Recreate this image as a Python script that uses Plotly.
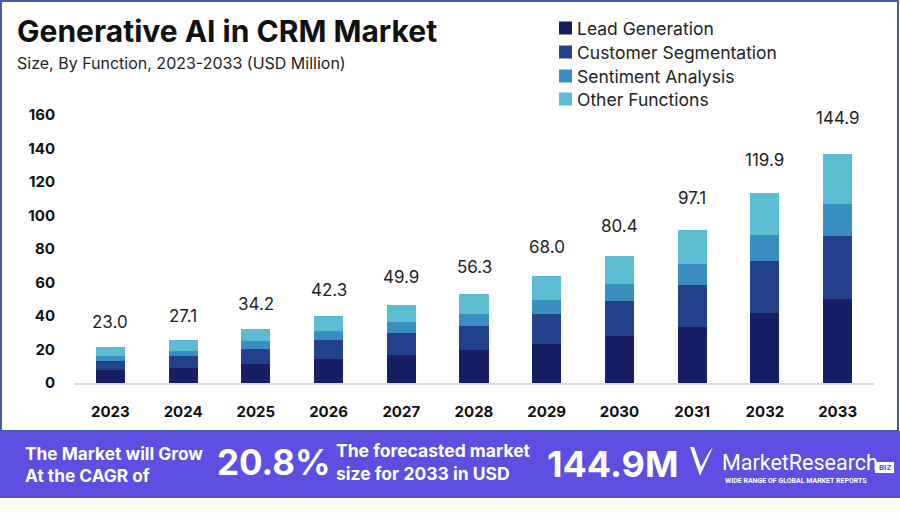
import plotly.graph_objects as go

years = ["2023", "2024", "2025", "2026", "2027", "2028", "2029", "2030", "2031", "2032", "2033"]
lead_generation = [7.5, 9.0, 11.5, 14.5, 16.9, 19.5, 23.5, 28.1, 33.4, 41.6, 50.3]
customer_segmentation = [5.8, 6.9, 8.8, 10.9, 13.1, 14.3, 17.5, 20.6, 25.3, 31.0, 37.6]
sentiment_analysis = [3.0, 3.4, 4.5, 5.4, 6.4, 7.6, 8.7, 10.6, 12.5, 15.5, 19.0]
other_functions = [5.2, 6.1, 7.4, 9.0, 10.3, 11.9, 14.4, 16.7, 20.3, 25.3, 30.1]
totals = [23.0, 27.1, 34.2, 42.3, 49.9, 56.3, 68.0, 80.4, 97.1, 119.9, 144.9]
y_ticks = [0, 20, 40, 60, 80, 100, 120, 140, 160]

series = [
    ("Lead Generation", lead_generation, "#161f63"),
    ("Customer Segmentation", customer_segmentation, "#23428c"),
    ("Sentiment Analysis", sentiment_analysis, "#3a8fc0"),
    ("Other Functions", other_functions, "#5bbcd2"),
]

W, H = 900, 520
ML, MR, MT, MB = 74, 26, 115, 137
PW, PH = W - ML - MR, H - MT - MB


def px(x):
    return (x - ML) / PW


def py(y):
    return (H - MB - y) / PH


fig = go.Figure()
for name, vals, col in series:
    fig.add_trace(go.Bar(x=years, y=vals, name=name, marker=dict(color=col, line=dict(width=0)), width=0.4))

for i, t in enumerate(totals):
    fig.add_annotation(x=i, y=t, text=f"{t:.1f}", showarrow=False, yanchor="middle", yshift=22,
                       font=dict(family="Inter, sans-serif", size=17, color="#222222"))

font_main = "Inter, sans-serif"

# title & subtitle
fig.add_annotation(xref="paper", yref="paper", x=px(15), y=py(31), xanchor="left", yanchor="middle",
                   text="<b>Generative AI in CRM Market</b>", showarrow=False,
                   font=dict(family=font_main, size=30, color="#111111"))
fig.add_annotation(xref="paper", yref="paper", x=px(15), y=py(63), xanchor="left", yanchor="middle",
                   text="Size, By Function, 2023-2033 (USD Million)", showarrow=False,
                   font=dict(family=font_main, size=16, color="#222222"))

# legend (manual)
leg_rows = [28, 52, 76, 99]
for (name, vals, col), yy in zip(series, leg_rows):
    fig.add_shape(type="rect", xref="paper", yref="paper", x0=px(559), x1=px(572), y0=py(yy - 6.5), y1=py(yy + 6.5),
                  fillcolor=col, line=dict(width=0))
    fig.add_annotation(xref="paper", yref="paper", x=px(575), y=py(yy), xanchor="left", yanchor="middle",
                       text=name, showarrow=False, font=dict(family=font_main, size=17.5, color="#222222"))

# frame
fig.add_shape(type="rect", xref="paper", yref="paper", x0=px(1), x1=px(898), y0=py(1), y1=py(431),
              line=dict(color="#3d5fae", width=2), fillcolor="rgba(0,0,0,0)", layer="below")
# banner
fig.add_shape(type="rect", xref="paper", yref="paper", x0=px(0), x1=px(900), y0=py(431), y1=py(498),
              line=dict(width=0), fillcolor="#5e4ee2")
fig.add_shape(type="rect", xref="paper", yref="paper", x0=px(0), x1=px(900), y0=py(498), y1=py(520),
              line=dict(width=0), fillcolor="#fcfcfa")
fig.add_annotation(xref="paper", yref="paper", x=px(23), y=py(464), xanchor="left", yanchor="middle",
                   text="<b>The Market will Grow<br>At the CAGR of</b>", align="left", showarrow=False,
                   font=dict(family=font_main, size=17.3, color="white"))
fig.add_annotation(xref="paper", yref="paper", x=px(215), y=py(462), xanchor="left", yanchor="middle",
                   text="<b>20.8%</b>", showarrow=False,
                   font=dict(family=font_main, size=35, color="white"))
fig.add_annotation(xref="paper", yref="paper", x=px(334), y=py(462), xanchor="left", yanchor="middle",
                   text="<b>The forecasted market<br>size for 2033 in USD</b>", align="left", showarrow=False,
                   font=dict(family=font_main, size=17.5, color="white"))
fig.add_annotation(xref="paper", yref="paper", x=px(545), y=py(464), xanchor="left", yanchor="middle",
                   text="<b>144.9M</b>", showarrow=False,
                   font=dict(family=font_main, size=36, color="white"))
# logo
chk = [(690, 447), (700, 476), (713, 447), (709, 452), (701, 467), (694, 447)]


def path(pts):
    return "M " + " L ".join(f"{px(a)},{py(b)}" for a, b in pts) + " Z"


fig.add_shape(type="path", xref="paper", yref="paper", path=path(chk), fillcolor="white", line=dict(width=0))
fig.add_annotation(xref="paper", yref="paper", x=px(720), y=py(462), xanchor="left", yanchor="middle",
                   text="MarketResearch", showarrow=False,
                   font=dict(family="Roboto, sans-serif", size=21.5, color="white"))
fig.add_shape(type="rect", xref="paper", yref="paper", x0=px(875), x1=px(894), y0=py(473), y1=py(462),
              fillcolor="white", line=dict(width=0))
fig.add_annotation(xref="paper", yref="paper", x=px(884.5), y=py(467.5), xanchor="center", yanchor="middle",
                   text="<b>BIZ</b>", showarrow=False,
                   font=dict(family="Roboto, sans-serif", size=8, color="#5e4ee2"))
fig.add_annotation(xref="paper", yref="paper", x=px(723), y=py(481), xanchor="left", yanchor="middle",
                   text="<b>WIDE RANGE OF GLOBAL MARKET REPORTS</b>", showarrow=False,
                   font=dict(family="Roboto, sans-serif", size=7, color="white"))

fig.update_layout(
    width=W, height=H, barmode="stack", bargap=0.6, showlegend=False,
    margin=dict(l=ML, r=MR, t=MT, b=MB, pad=0),
    paper_bgcolor="white", plot_bgcolor="white",
    xaxis=dict(type="category", range=[-0.5, 10.5], showgrid=False, showline=True, linecolor="#dcdcdc",
               linewidth=1.5, ticks="",
               tickfont=dict(family=font_main, size=15, color="#111111", weight="bold"), ticklabelstandoff=14),
    yaxis=dict(range=[0, 160], tickvals=y_ticks, showgrid=False, zeroline=False, showline=False,
               tickfont=dict(family=font_main, size=15, color="#111111", weight="bold"), ticklabelstandoff=18),
)

fig.write_html("out.html", config={"displayModeBar": False},
               post_script="document.body.style.margin='0';document.body.style.overflow='hidden';")
